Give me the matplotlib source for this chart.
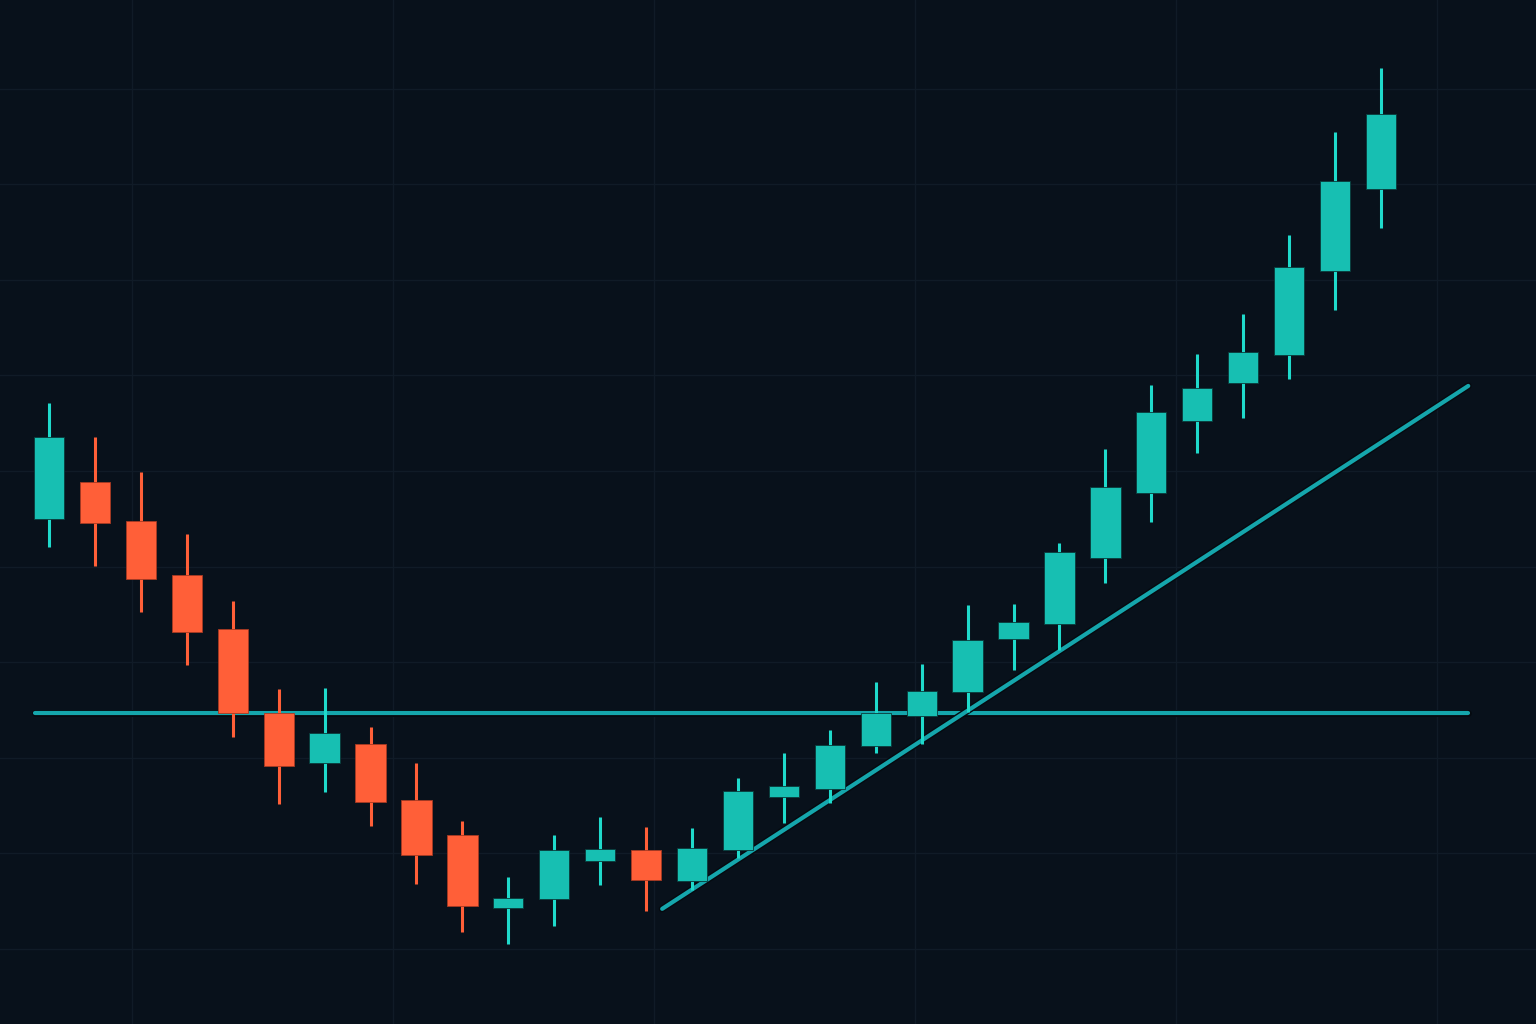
import matplotlib
matplotlib.use('Agg')
import matplotlib.pyplot as plt
import matplotlib.patheffects as pe
import numpy as np

# Dades OHLC (preus llegits de la imatge)
opens  = [145.0, 148.8, 144.8, 139.1, 133.5, 124.7, 119.5, 121.4, 115.6, 111.9,
          104.3, 105.2, 109.2, 110.4, 107.1, 110.4, 115.9, 116.7, 121.2, 124.4,
          126.9, 132.4, 134.0, 140.9, 147.7, 155.2, 159.2, 162.1, 170.9, 179.5]
closes = [153.6, 144.6, 138.7, 133.2, 124.7, 119.1, 122.6, 115.4, 109.8, 104.5,
          105.3, 110.4, 110.5, 107.2, 110.6, 116.5, 117.1, 121.3, 124.7, 127.0,
          132.3, 134.2, 141.5, 148.3, 156.2, 158.7, 162.4, 171.3, 180.3, 187.3]
highs  = [157.1, 153.6, 149.9, 143.4, 136.4, 127.2, 127.3, 123.2, 119.5, 113.4,
          107.5, 111.9, 113.8, 112.8, 112.7, 117.9, 120.5, 122.9, 127.9, 129.8,
          136.0, 136.1, 142.5, 152.3, 159.0, 162.2, 166.4, 174.7, 185.5, 192.2]
lows   = [142.1, 140.1, 135.3, 129.7, 122.2, 115.2, 116.4, 112.9, 106.8, 101.8,
          100.5, 102.4, 106.7, 104.0, 106.2, 109.5, 113.2, 115.3, 120.5, 121.4,
          124.8, 129.2, 131.3, 138.3, 144.7, 151.9, 155.5, 159.6, 166.8, 175.4]

# Línies de suport i tendència
support_level = 124.7
support_span = [-0.3, 30.9]
trend_x = [13.35, 30.9]
trend_y = [104.2, 158.9]

# Colors
bg = '#08111b'
grid_col = '#101b27'
up_body = '#17bfb2'
up_wick = '#1fdacb'
down_col = '#ff5f38'
line_col = '#15a6ac'

fig = plt.figure(figsize=(15.36, 10.24), dpi=100, facecolor=bg)
ax = fig.add_axes([0, 0, 1, 1])
ax.set_facecolor(bg)

# Graella
for yg in np.arange(100, 200, 10):
    ax.axhline(yg, color=grid_col, linewidth=1.0, zorder=0)
for xg in np.arange(1.81, 32, 5.68):
    ax.axvline(xg, color=grid_col, linewidth=1.0, zorder=0)

# Línies horitzontal i de tendència
outline = [pe.Stroke(linewidth=5, foreground='#050a10'), pe.Normal()]
ax.plot(support_span, [support_level, support_level], color=line_col,
        linewidth=3, solid_capstyle='round', zorder=2, path_effects=outline)
ax.plot(trend_x, trend_y, color=line_col, linewidth=3,
        solid_capstyle='round', zorder=2, path_effects=outline)

# Espelmes
width = 0.66
for i, (o, c, h, l) in enumerate(zip(opens, closes, highs, lows)):
    up = c >= o
    body_col = up_body if up else down_col
    wick_col = up_wick if up else down_col
    ax.vlines(i, l, h, color=wick_col, linewidth=2.2, zorder=3)
    ax.bar(i, abs(c - o), bottom=min(o, c), width=width, color=body_col,
           edgecolor='#0a3a3a' if up else '#a83a22', linewidth=0.6, zorder=4)

ax.set_xlim(-1.067, 32.375)
ax.set_ylim(100 + (949 - 1024) / 9.56, 100 + 949 / 9.56)
ax.axis('off')

fig.savefig('out.png', dpi=100, facecolor=bg)
